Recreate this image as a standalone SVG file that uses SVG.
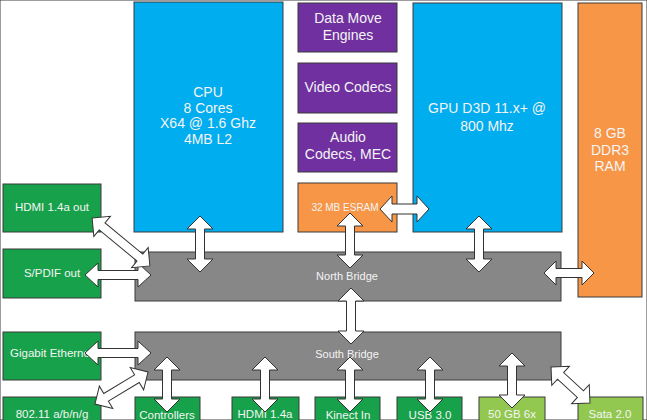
<svg xmlns="http://www.w3.org/2000/svg" width="647" height="420" viewBox="0 0 647 420">
<style>
rect{stroke:#3a3a3a;stroke-width:1}
.blue{fill:#00ADEF}
.purple{fill:#7030A0}
.orange{fill:#F79646}
.gray{fill:#878787}
.green{fill:#17A14A}
.lgreen{fill:#92C850}
text{font-family:"Liberation Sans",Arial,sans-serif;fill:#F4F4F4;text-anchor:middle;font-size:14px}
.s{font-size:11.5px}
.nb{font-size:11px}
.es{font-size:10px}
.arr polygon{fill:#FFFFFF;stroke:#333333;stroke-width:1;stroke-linejoin:miter}
</style>
<rect width="647" height="420" fill="#FFFFFF" stroke="none"/>
<g id="cpu"><rect class="blue" x="134" y="2" width="149" height="230"/>
<text x="208" y="97">CPU</text><text x="208" y="112.5">8 Cores</text><text x="208" y="128">X64 @ 1.6 Ghz</text><text x="208" y="143.5">4MB L2</text></g>
<g id="gpu"><rect class="blue" x="413" y="3" width="149" height="229"/>
<text x="487" y="113">GPU D3D 11.x+ @</text><text x="487" y="131">800 Mhz</text></g>
<g id="ram"><rect class="orange" x="578" y="3" width="64" height="294"/>
<text x="610" y="138">8 GB</text><text x="610" y="155">DDR3</text><text x="610" y="171">RAM</text></g>
<g id="dme"><rect class="purple" x="298" y="3" width="99" height="49"/>
<text x="348" y="23">Data Move</text><text x="348" y="40">Engines</text></g>
<g id="video"><rect class="purple" x="298" y="63" width="99" height="50"/>
<text x="348" y="92">Video Codecs</text></g>
<g id="audio"><rect class="purple" x="298" y="123" width="99" height="49"/>
<text x="348" y="142">Audio</text><text x="348" y="159">Codecs, MEC</text></g>
<g id="esram"><rect class="orange" x="298" y="183" width="99" height="49"/>
<text class="es" x="345" y="210.5">32 MB ESRAM</text></g>
<g id="northbridge"><rect class="gray" x="135" y="252" width="426" height="49"/>
<text class="nb" x="347" y="280">North Bridge</text></g>
<g id="southbridge"><rect class="gray" x="135" y="332" width="426" height="48"/>
<text class="nb" x="347" y="358">South Bridge</text></g>
<g id="hdmiout"><rect class="green" x="3" y="184" width="98" height="48"/>
<text class="s" x="52" y="211">HDMI 1.4a out</text></g>
<g id="spdif"><rect class="green" x="3" y="249" width="98" height="49"/>
<text class="s" x="52" y="277">S/PDIF out</text></g>
<g id="gigabit"><rect class="green" x="3" y="332" width="98" height="48"/>
<text class="s" x="10" y="357" style="text-anchor:start">Gigabit Etherne</text></g>
<g id="wifi"><rect class="green" x="3" y="397" width="98" height="40"/>
<text class="s" x="52" y="418">802.11 a/b/n/g</text></g>
<g id="controllers"><rect class="green" x="135" y="397" width="65" height="40"/>
<text class="s" x="167" y="419">Controllers</text></g>
<g id="hdmiin"><rect class="green" x="232" y="397" width="67" height="40"/>
<text class="s" x="265" y="418">HDMI 1.4a</text></g>
<g id="kinect"><rect class="green" x="315" y="397" width="65" height="40"/>
<text class="s" x="348" y="419">Kinect In</text></g>
<g id="usb"><rect class="green" x="397" y="397" width="65" height="40"/>
<text class="s" x="430" y="419">USB 3.0</text></g>
<g id="bluray"><rect class="lgreen" x="479" y="397" width="66" height="40"/>
<text class="s" x="512" y="418">50 GB 6x</text></g>
<g id="sata"><rect class="lgreen" x="578" y="397" width="65" height="40"/>
<text class="s" x="610" y="418">Sata 2.0</text></g>
<g id="connectors" class="arr">
<polygon transform="translate(200,244) rotate(90)" points="-28,0 -15,-13 -15,-4.5 15,-4.5 15,-13 28,0 15,13 15,4.5 -15,4.5 -15,13"/>
<polygon transform="translate(350,240.5) rotate(90)" points="-27.5,0 -14.5,-13 -14.5,-4.5 14.5,-4.5 14.5,-13 27.5,0 14.5,13 14.5,4.5 -14.5,4.5 -14.5,13"/>
<polygon transform="translate(479,244) rotate(90)" points="-28,0 -15,-13 -15,-4.5 15,-4.5 15,-13 28,0 15,13 15,4.5 -15,4.5 -15,13"/>
<polygon transform="translate(351,316) rotate(90)" points="-28,0 -15,-13 -15,-4.5 15,-4.5 15,-13 28,0 15,13 15,4.5 -15,4.5 -15,13"/>
<polygon transform="translate(404.5,209)" points="-24.5,0 -12.5,-13 -12.5,-5 12.5,-5 12.5,-13 24.5,0 12.5,13 12.5,5 -12.5,5 -12.5,13"/>
<polygon transform="translate(569,273)" points="-25,0 -13,-12 -13,-4.5 13,-4.5 13,-12 25,0 13,12 13,4.5 -13,4.5 -13,12"/>
<polygon transform="translate(118,275)" points="-33,0 -20,-12 -20,-4.5 20,-4.5 20,-12 33,0 20,12 20,4.5 -20,4.5 -20,12"/>
<polygon transform="translate(121,242) rotate(39.6)" points="-37.5,0 -24.5,-13 -24.5,-4.5 24.5,-4.5 24.5,-13 37.5,0 24.5,13 24.5,4.5 -24.5,4.5 -24.5,13"/>
<polygon transform="translate(118,353)" points="-33,0 -20,-12 -20,-4.5 20,-4.5 20,-12 33,0 20,12 20,4.5 -20,4.5 -20,12"/>
<polygon transform="translate(121.5,388) rotate(-31.1)" points="-31,0 -18,-13 -18,-4.5 18,-4.5 18,-13 31,0 18,13 18,4.5 -18,4.5 -18,13"/>
<polygon transform="translate(167,384.5) rotate(90)" points="-27.5,0 -14.5,-13 -14.5,-4.5 14.5,-4.5 14.5,-13 27.5,0 14.5,13 14.5,4.5 -14.5,4.5 -14.5,13"/>
<polygon transform="translate(265,384.5) rotate(90)" points="-27.5,0 -14.5,-13 -14.5,-4.5 14.5,-4.5 14.5,-13 27.5,0 14.5,13 14.5,4.5 -14.5,4.5 -14.5,13"/>
<polygon transform="translate(350,384.5) rotate(90)" points="-27.5,0 -14.5,-13 -14.5,-4.5 14.5,-4.5 14.5,-13 27.5,0 14.5,13 14.5,4.5 -14.5,4.5 -14.5,13"/>
<polygon transform="translate(430,384.5) rotate(90)" points="-27.5,0 -14.5,-13 -14.5,-4.5 14.5,-4.5 14.5,-13 27.5,0 14.5,13 14.5,4.5 -14.5,4.5 -14.5,13"/>
<polygon transform="translate(512,380.5) rotate(90)" points="-27.5,0 -14.5,-13 -14.5,-4.5 14.5,-4.5 14.5,-13 27.5,0 14.5,13 14.5,4.5 -14.5,4.5 -14.5,13"/>
<polygon transform="translate(570.5,385) rotate(42.7)" points="-26.5,0 -13.5,-13 -13.5,-4.5 13.5,-4.5 13.5,-13 26.5,0 13.5,13 13.5,4.5 -13.5,4.5 -13.5,13"/>
</g>
</svg>
